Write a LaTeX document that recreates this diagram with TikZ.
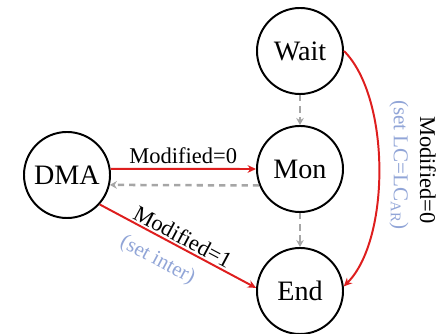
\documentclass[tikz,border=0pt]{standalone}
\usepackage{fontspec}
\setmainfont{Liberation Serif}
\usetikzlibrary{arrows.meta}
\definecolor{setblue}{RGB}{145,165,215}
\definecolor{arrred}{RGB}{222,30,30}
\tikzset{
  state/.style={circle,draw,line width=1.4pt,minimum size=2.15cm,inner sep=0pt,font=\fontsize{20}{24}\selectfont},
  fire/.style={arrred,line width=1.4pt,-{Stealth[length=6pt,width=5.5pt]}},
  back/.style={black!35,line width=1.8pt,dash pattern=on 4.5pt off 3.5pt,-{Stealth[length=5pt,width=5.5pt]}},
  cond/.style={text=black,font=\fontsize{16}{19}\selectfont},
  note/.style={text=setblue,font=\fontsize{15}{18}\selectfont}
}
\begin{document}
\begin{tikzpicture}[x=0.025cm,y=-0.025cm]
\useasboundingbox (0,0) rectangle (442,334);
%\draw[very thin,color=gray,step=20] (0,0) grid (442,334);
\node[state] (wait) at (300,51) {Wait};
\node[state] (mon)  at (300,169) {Mon};
\node[state] (end)  at (300,291) {End};
\node[state] (dma)  at (67,175) {DMA};
\draw[back] (wait.south) -- (mon.north);
\draw[back] (mon.south) -- (end.north);
\draw[back] (mon.202) -- (dma.-13);
\draw[fire] (dma.8) -- (mon.west) node[cond,midway,above=0pt] {Modified=0};
\draw[fire] (dma.-42) -- (end.176)
  node[cond,midway,sloped,above=-2pt] {Modified=1}
  node[note,midway,sloped,below=5pt,xshift=-8pt] {(set inter)};
\draw[fire] (wait.east) to[out=-45,in=45,looseness=0.72] (end.6);
\node[cond,rotate=-90] (modzero) at (428,170) {Modified=0};
\node[note,rotate=-90] (setlc) at (399,165) {(set LC=LC$_{\mathrm{AR}}$)};
\end{tikzpicture}
\end{document}
